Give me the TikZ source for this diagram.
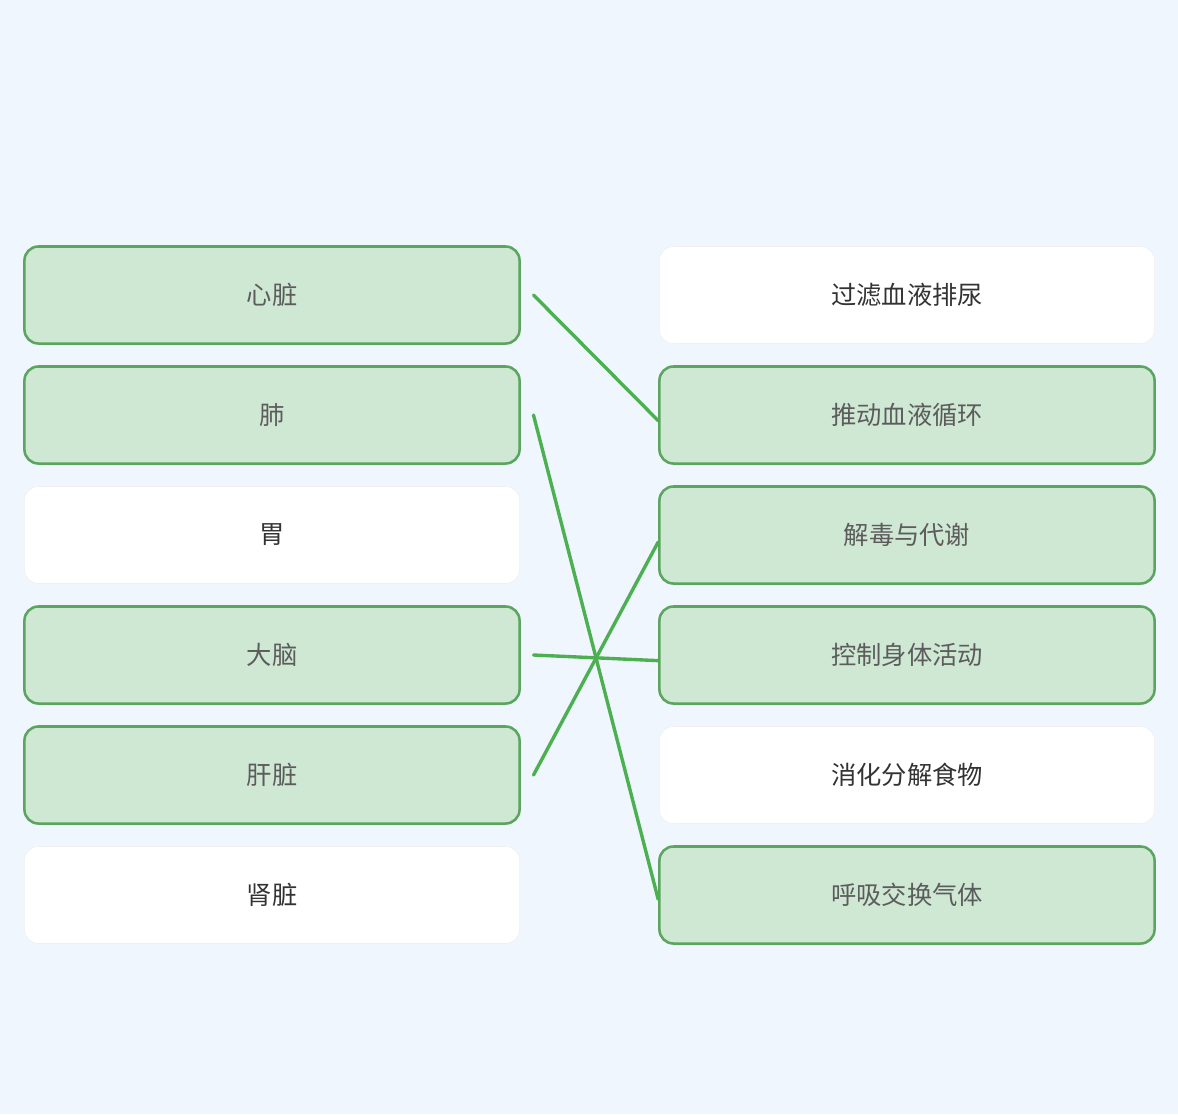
\documentclass[tikz,border=0pt]{standalone}
\usepackage{fontspec}
\setmainfont{Noto Sans CJK SC}
\definecolor{bgc}{HTML}{EFF6FE}
\definecolor{okfill}{HTML}{CFE8D4}
\definecolor{okdraw}{HTML}{5BA55E}
\definecolor{linkc}{HTML}{4CAF50}
\definecolor{txt}{HTML}{333333}
\tikzset{
  box/.style={rounded corners=0.35cm, minimum width=12.375cm, minimum height=2.425cm,
    font=\fontsize{18}{22}\selectfont, text=txt, inner sep=0pt},
  plain/.style={box, fill=white, draw=black!6, line width=0.4pt},
  hit/.style={box, fill=okfill, draw=okdraw, line width=1.8pt, text=txt!80},
  link/.style={draw=linkc, line width=2.4pt, line cap=round}
}
\begin{document}
\begin{tikzpicture}[x=0.025cm,y=-0.025cm]
  \fill[bgc] (0,0) rectangle (1178,1114);

  \node[hit]   (heart)  at (272,295) {心脏};
  \node[hit]   (lung)   at (272,415) {肺};
  \node[plain] (stom)   at (272,535) {胃};
  \node[hit]   (brain)  at (272,655) {大脑};
  \node[hit]   (liver)  at (272,775) {肝脏};
  \node[plain] (kidney) at (272,895) {肾脏};

  \node[plain] (filter) at (907,295) {过滤血液排尿};
  \node[hit]   (pump)   at (907,415) {推动血液循环};
  \node[hit]   (detox)  at (907,535) {解毒与代谢};
  \node[hit]   (move)   at (907,655) {控制身体活动};
  \node[plain] (digest) at (907,775) {消化分解食物};
  \node[hit]   (breath) at (907,895) {呼吸交换气体};

  \draw[link] ([xshift=9]heart.east) -- ([yshift=-4]pump.west);
  \draw[link] ([xshift=9]lung.east) -- ([yshift=-3]breath.west);
  \draw[link] ([xshift=9]brain.east) -- ([yshift=-4]move.west);
  \draw[link] ([xshift=9]liver.east) -- ([yshift=-5]detox.west);
\end{tikzpicture}
\end{document}
